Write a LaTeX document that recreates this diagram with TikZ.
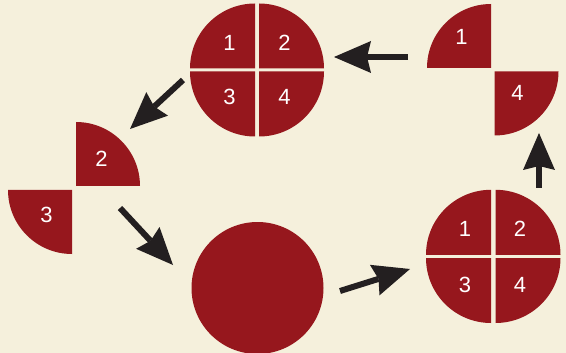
\documentclass[tikz,border=0pt]{standalone}
\usepackage{fontspec}
\setmainfont{Liberation Sans}
\usetikzlibrary{arrows.meta}

\definecolor{paper}{RGB}{245,240,220}
\definecolor{slice}{RGB}{150,23,29}
\definecolor{ink}{RGB}{35,31,32}

\begin{document}
\begin{tikzpicture}[x=1pt,y=-1pt,
  piece/.style={fill=slice},
  num/.style={text=white,font=\fontsize{22}{26}\selectfont,inner sep=0pt},
  move/.style={draw=ink,line width=6pt,
    -{Stealth[length=37pt,width=32pt,inset=4pt,line width=0pt]}}]

% Quarter radius
\def\R{65pt}

% Paper
\fill[paper] (0,0) rectangle (566,353);
\useasboundingbox (0,0) rectangle (566,353);

% Top split disc
\foreach \a/\cx/\cy in {90/255/68.5, 0/259/68.5, 180/255/71.5, 270/259/71.5}
  \fill[piece,shift={(\cx,\cy)}] (0,0) -- (\a:\R) arc[start angle=\a,end angle=\a+90,radius=\R] -- cycle;
\node[num] (t1) at (229.5,42.5) {1};
\node[num] (t2) at (284.5,42.5) {2};
\node[num] (t3) at (229.5,97) {3};
\node[num] (t4) at (284.5,97) {4};

% Loose quarters on the right
\fill[piece,shift={(491,68)}] (0,0) -- (90:64pt) arc[start angle=90,end angle=180,radius=64pt] -- cycle;
\fill[piece,shift={(494.5,71.5)}] (0,0) -- (270:64pt) arc[start angle=270,end angle=360,radius=64pt] -- cycle;
\node[num] (q1) at (461.5,37) {1};
\node[num] (q4) at (517.5,92.5) {4};

% Loose quarters on the left
\fill[piece,shift={(76,186)}] (0,0) -- (0:64pt) arc[start angle=0,end angle=90,radius=64pt] -- cycle;
\fill[piece,shift={(72,190)}] (0,0) -- (180:64pt) arc[start angle=180,end angle=270,radius=64pt] -- cycle;
\node[num] (q2) at (101.5,159) {2};
\node[num] (q3) at (46.5,215) {3};

% Whole disc
\fill[piece] (257.5,288) circle (66pt);

% Right split disc
\foreach \a/\cx/\cy in {90/491/254.8, 0/495.5/254.8, 180/491/258, 270/495.5/258}
  \fill[piece,shift={(\cx,\cy)}] (0,0) -- (\a:\R) arc[start angle=\a,end angle=\a+90,radius=\R] -- cycle;
\node[num] (r1) at (465,229) {1};
\node[num] (r2) at (520,229) {2};
\node[num] (r3) at (465,285) {3};
\node[num] (r4) at (520,285) {4};

% Arrow ends
\coordinate (a1) at (408,57);  \coordinate (b1) at (334,57);
\coordinate (a2) at (183,80);  \coordinate (b2) at (130,129);
\coordinate (a3) at (120,208); \coordinate (b3) at (173,265);
\coordinate (a4) at (340,291); \coordinate (b4) at (410,269);
\coordinate (a5) at (539,188); \coordinate (b5) at (539,133);

% Arrows
\foreach \i in {1,...,5}
  \draw[move] (a\i) -- (b\i);

\end{tikzpicture}
\end{document}
